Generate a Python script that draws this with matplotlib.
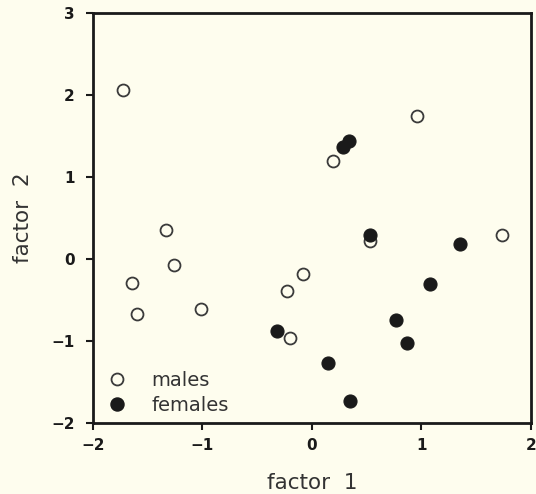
import matplotlib
matplotlib.use("Agg")
import matplotlib.pyplot as plt
from matplotlib.lines import Line2D

# factor scores
males_x = [-1.73, -1.33, -1.64, -1.60, -1.26, -1.01, -0.08, -0.23, -0.20, 0.19, 0.96, 0.53, 1.74]
males_y = [2.06, 0.35, -0.29, -0.67, -0.07, -0.61, -0.18, -0.39, -0.97, 1.19, 1.74, 0.22, 0.29]
females_x = [0.34, 0.28, 0.53, -0.32, 0.15, 0.35, 0.77, 0.87, 1.08, 1.35]
females_y = [1.44, 1.36, 0.29, -0.88, -1.27, -1.73, -0.75, -1.03, -0.31, 0.18]

xticks = [-2, -1, 0, 1, 2]
yticks = [-2, -1, 0, 1, 2, 3]

bg = "#fefdee"
ink = "#1a1a1a"

fig = plt.figure(figsize=(5.36, 4.94), dpi=100, facecolor=bg)
ax = fig.add_axes([0.1735, 0.144, 0.817, 0.830], facecolor=bg)

ax.plot(males_x, males_y, "o", ms=8.6, mfc="none", mec="#3a3a3a", mew=1.3, ls="none")
ax.plot(females_x, females_y, "o", ms=9.4, mfc=ink, mec=ink, mew=0.8, ls="none")

ax.set_xlim(-2, 2)
ax.set_ylim(-2, 3)
ax.set_xticks(xticks)
ax.set_yticks(yticks)
ax.set_xticklabels(["\u22122", "\u22121", "0", "1", "2"], fontweight="bold", fontsize=11)
ax.set_yticklabels(["\u22122", "\u22121", "0", "1", "2", "3"], fontweight="bold", fontsize=11)
ax.tick_params(direction="out", length=5, width=1.5, colors=ink)
ax.tick_params(axis="x", pad=6)
ax.tick_params(axis="y", pad=8)
for s in ax.spines.values():
    s.set_linewidth(2)
    s.set_color(ink)

ax.set_xlabel("factor  1", fontsize=15.5, color="#333333", labelpad=14)
ax.set_ylabel("factor  2", fontsize=15.5, color="#333333", labelpad=13)

handles = [
    Line2D([], [], marker="o", ls="none", ms=8.6, mfc="none", mec="#3a3a3a", mew=1.3),
    Line2D([], [], marker="o", ls="none", ms=9.4, mfc=ink, mec=ink),
]
leg = ax.legend(handles, ["males", "females"], loc="lower left", frameon=False,
                fontsize=14, handlelength=1.0, handletextpad=1.25, labelspacing=0.3,
                borderaxespad=0.0, bbox_to_anchor=(0.015, 0.0))
for t in leg.get_texts():
    t.set_color("#333333")

fig.savefig("out.png", dpi=100, facecolor=bg)
